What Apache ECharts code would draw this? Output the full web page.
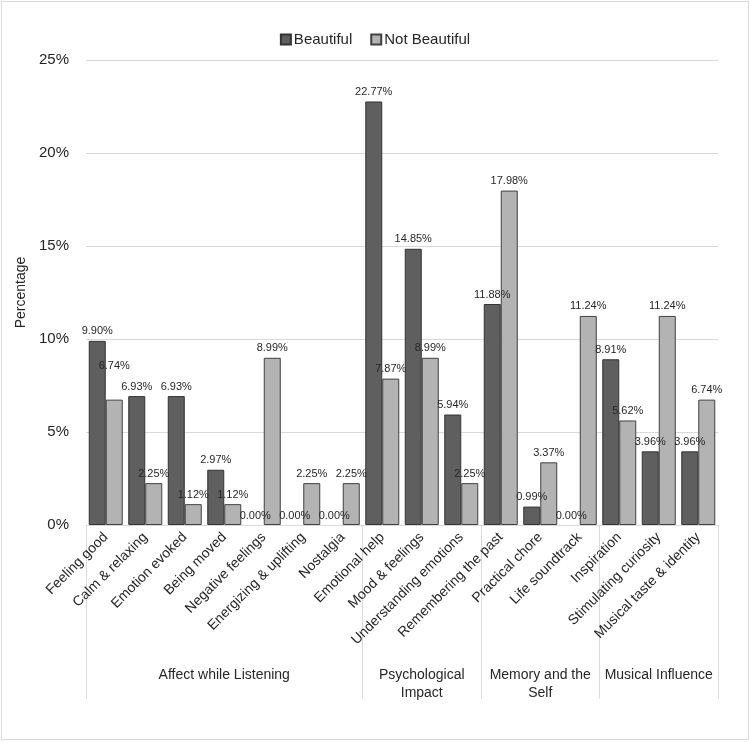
<!DOCTYPE html>
<html>
<head>
<meta charset="utf-8">
<script src="https://cdn.jsdelivr.net/npm/echarts@6/dist/echarts.min.js"></script>
<style>
  html, body { margin: 0; padding: 0; background: #fff; }
  .wrap { position: relative; width: 750px; height: 742px; }
  #chart { position: absolute; left: 0; top: 0; width: 750px; height: 742px; }
  .frame { position: absolute; left: 1px; top: 1px; right: 1px; bottom: 2px; border: 1px solid #d9d9d9; pointer-events: none; }
</style>
</head>
<body>
<div class="wrap">
  <div id="chart"></div>
  <div class="frame"></div>
</div>
<script>
// categories
const categories = [
  "Feeling good", "Calm & relaxing", "Emotion evoked", "Being moved",
  "Negative feelings", "Energizing & uplifting", "Nostalgia",
  "Emotional help", "Mood & feelings", "Understanding emotions",
  "Remembering the past", "Practical chore", "Life soundtrack",
  "Inspiration", "Stimulating curiosity", "Musical taste & identity"
];
// group label per category slot (shown at the middle slot of each group)
const groupLabels = [
  "", "", "", "Affect while Listening", "", "", "",
  "", "Psychological\nImpact", "",
  "", "Memory and the\nSelf", "",
  "", "Musical Influence", ""
];
const groupStarts = [0, 7, 10, 13];

const beautiful = [9.90, 6.93, 6.93, 2.97, 0.00, 0.00, 0.00, 22.77, 14.85, 5.94, 11.88, 0.99, 0.00, 8.91, 3.96, 3.96];
const notBeautiful = [6.74, 2.25, 1.12, 1.12, 8.99, 2.25, 2.25, 7.87, 8.99, 2.25, 17.98, 3.37, 11.24, 5.62, 11.24, 6.74];

const yTicks = [0, 5, 10, 15, 20, 25];

const font = "Liberation Sans, Arial, sans-serif";
const textColor = "#262626";
const lineColor = "#d9d9d9";

const chart = echarts.init(document.getElementById("chart"));

const barLabel = {
  show: true,
  position: "top",
  distance: 4,
  fontFamily: font,
  fontSize: 11,
  color: textColor,
  formatter: (p) => p.value.toFixed(2) + "%"
};

// zero bars get no outline, so nothing is drawn on the baseline
function toItems(values, extra) {
  return values.map((v, i) => {
    const item = { value: v };
    if (v === 0) item.itemStyle = { borderWidth: 0 };
    if (extra && extra[i]) Object.assign(item, extra[i]);
    return item;
  });
}

chart.setOption({
  animation: false,
  textStyle: { fontFamily: font },
  legend: {
    top: 27,
    left: "center",
    itemWidth: 10,
    itemHeight: 10,
    itemGap: 18,
    icon: "rect",
    textStyle: { fontFamily: font, fontSize: 15, color: textColor, padding: [0, 0, 0, -2] },
    data: ["Beautiful", "Not Beautiful"]
  },
  grid: { left: 86, right: 32, top: 60, bottom: 217 },
  xAxis: [
    {
      type: "category",
      data: categories,
      axisLine: { show: true, lineStyle: { color: lineColor, width: 1 } },
      axisTick: { show: false },
      axisLabel: {
        interval: 0,
        rotate: 45,
        margin: 10,
        fontFamily: font,
        fontSize: 14,
        color: textColor
      }
    },
    {
      type: "category",
      position: "bottom",
      data: groupLabels,
      axisLine: { show: false },
      axisTick: {
        show: true,
        inside: false,
        length: 174,
        interval: (i) => groupStarts.includes(i),
        lineStyle: { color: lineColor, width: 1 }
      },
      axisLabel: {
        interval: (i, v) => v !== "",
        margin: 141,
        fontFamily: font,
        fontSize: 14,
        lineHeight: 18,
        color: textColor
      }
    }
  ],
  yAxis: {
    type: "value",
    min: yTicks[0],
    max: yTicks[yTicks.length - 1],
    interval: 5,
    name: "Percentage",
    nameLocation: "middle",
    nameGap: 48,
    nameRotate: 90,
    nameTextStyle: { fontFamily: font, fontSize: 14, color: textColor },
    axisLine: { show: false },
    axisTick: { show: false },
    axisLabel: {
      margin: 17,
      fontFamily: font,
      fontSize: 15,
      color: textColor,
      formatter: "{value}%"
    },
    splitLine: { lineStyle: { color: lineColor, width: 1 } }
  },
  series: [
    {
      name: "Beautiful",
      type: "bar",
      xAxisIndex: 0,
      barWidth: 17,
      barGap: "0%",
      itemStyle: { color: "#5f5f5f", borderColor: "#333333", borderWidth: 1 },
      label: barLabel,
      data: toItems(beautiful)
    },
    {
      name: "Not Beautiful",
      type: "bar",
      xAxisIndex: 0,
      barWidth: 17,
      barGap: "0%",
      itemStyle: { color: "#b3b3b3", borderColor: "#404040", borderWidth: 1 },
      label: barLabel,
      data: toItems(notBeautiful, { 0: { label: { offset: [0, -24] } } })
    }
  ]
});

window.addEventListener("resize", () => chart.resize());
</script>
</body>
</html>
